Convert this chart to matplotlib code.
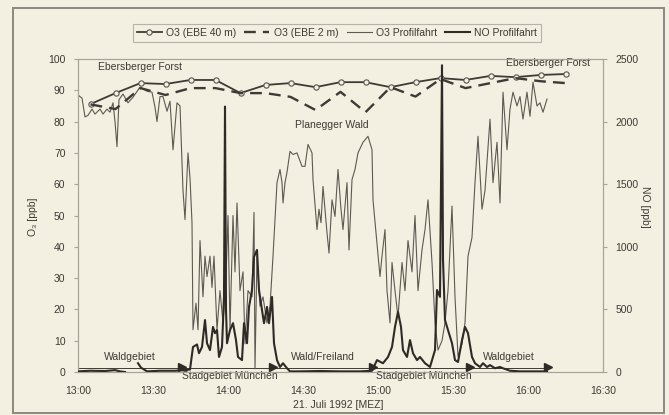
import numpy as np
import matplotlib.pyplot as plt
from matplotlib.patches import Rectangle

# minutes after 13:00 (MEZ)
ebe_t = [5, 15, 25, 35, 45, 55, 65, 75, 85, 95, 105, 115, 125, 135, 145, 155, 165, 175, 185, 195]
ebe40 = [85.6, 89.1, 92.3, 92.0, 93.3, 93.3, 89.1, 91.7, 92.3, 91.0,
         92.6, 92.6, 91.0, 92.6, 93.9, 93.3, 94.6, 94.2, 94.9, 95.2]
ebe2 = [85.5, 84.0, 90.7, 88.5, 90.7, 90.7, 89.1, 89.1, 87.9, 83.7,
        89.5, 83.0, 91.0, 88.0, 93.6, 90.7, 92.3, 93.9, 92.9, 92.3]

o3_t = [0, 1.6, 2.8, 4, 5.6, 6.8, 8.8, 10, 11.6, 12.8, 14, 14.8, 15.6, 16.4, 18, 20, 22,
        24.8, 27.6, 29.6, 30.8, 31.6, 32.8, 34, 35.6, 36.8, 38, 39.6, 40.8, 42, 42.8, 44,
        44.8, 45.6, 46, 47.2, 48, 48.8, 50, 50.8, 51.6, 52.8, 53.6, 54.4, 55.6, 56.8, 58,
        59.2, 60, 60.8, 62, 62.8, 63.6, 64.8, 66, 66.8, 68, 69.6, 70.4, 70.8, 71.6, 72.8,
        74, 75.6, 76.8, 78, 79.6, 80.8, 81.6, 82, 82.8, 83.6, 84.8, 86, 87.6, 89.6, 90.8,
        92, 93.6, 94, 95.6, 96.4, 97.2, 98, 99.6, 100.4, 101.6, 102.8, 104, 105.2, 106,
        107.6, 108.4, 109.6, 110.8, 112, 114, 116, 117.6, 118, 119.6, 120.8, 121.6, 122.8,
        123.6, 124.8, 125.6, 126.8, 128, 129.6, 130.8, 132, 133.6, 134.8, 136, 137.6,
        138.8, 140, 141.6, 142.8, 144, 145.6, 146.8, 148, 149.6, 150.8, 152, 153.6, 154.8,
        156, 157.6, 158.8, 160, 161.6, 162.8, 164.8, 166, 167.6, 168.8, 170, 171.6, 172.8,
        174, 175.6, 176.8, 178, 179.6, 180.8, 182, 183.6, 184.8, 186, 187.6]
o3_prof = [88.5, 87.5, 81.5, 82, 84, 82.4, 84, 82.4, 84, 83, 86, 80, 72, 87, 88.8, 86, 87.8,
           91, 89.7, 89.4, 84.6, 80, 88, 88, 83.3, 86.5, 71, 86, 85, 58, 48.7, 70,
           62, 47.7, 13.5, 22, 13.5, 42, 24, 37, 30.5, 37, 27, 37, 13.5, 26, 15.7,
           30, 50, 13.5, 50, 32, 54, 26, 32, 9, 26, 24, 51, 1, 37, 21,
           24, 15.7, 21, 37, 60.5, 64.7, 60.5, 54, 60.5, 63.8, 70.5, 69.5, 70, 65.7, 65.7,
           72.7, 70, 61.5, 45.5, 52, 47.7, 59.3, 44.5, 38, 55, 49.7, 64.7, 52, 45.5,
           60.5, 39, 61.5, 64.7, 70, 73.4, 75.3, 71, 55, 41, 30.5, 37, 45.5,
           26, 15.7, 35, 26, 17.6, 35, 26, 42, 32, 50, 26, 39,
           45.5, 55, 35, 15.7, 7, 10, 15.7, 26, 53, 24, 5, 9, 15.7,
           37, 43, 60.5, 75.3, 52, 58, 80.8, 60.5, 73.4, 54, 89.4, 71, 84,
           89.4, 85, 88, 80.8, 89.4, 81.7, 92.6, 85, 86, 83, 87.2]

no_t = [0, 4.8, 10.8, 14.8, 16.8, 18.8, 19.5, 24, 25.2, 27.6, 32.8, 38.8, 42.8, 44.8, 46,
        47.6, 48.4, 49.6, 50.8, 51.6, 52.8, 54, 54.8, 55.6, 56.4, 57.6, 58.4, 58.8, 59.2,
        59.6, 60.8, 62, 63.2, 64, 65.6, 66.4, 67.6, 68.4, 69.6, 70.4, 71.6, 72.4, 73.6,
        74.4, 75.6, 76.4, 77.6, 78.4, 79.6, 80.8, 82, 83.6, 84.8, 88.8, 96.8, 104.8, 112.8,
        117.6, 119.6, 122, 124, 125.6, 126.8, 128, 129.2, 130, 131.6, 132.8, 134, 135.6,
        136.8, 138.8, 140.8, 142.8, 143.6, 144.8, 145.2, 145.6, 146, 146.8, 148, 149.6,
        150.8, 152, 153.6, 154.8, 156, 157.6, 158.8, 160.8, 162, 163.6, 164.8, 166.8,
        168.8, 170, 172.8, 176.8, 180.8, 187.6]
no_prof = [5, 10, 8, 15, 5, 0, np.nan, 70, 35, 5, 10, 10, 15, 20, 200,
           220, 150, 200, 415, 230, 175, 360, 310, 335, 120, 200, 600, 2120, 500,
           230, 335, 390, 255, 120, 95, 390, 230, 520, 655, 920, 975, 655, 495,
           390, 520, 390, 600, 230, 95, 40, 70, 30, 5, 5, 8, 5, 5,
           10, 95, 70, 120, 200, 360, 480, 360, 175, 120, 255, 150, 95,
           120, 70, 40, 175, 655, 600, 1500, 2450, 900, 415, 335, 230,
           95, 80, 255, 360, 310, 120, 70, 40, 70, 40, 55, 30,
           40, 30, 10, 5, 5, 5]

# route segments along the trip (boundaries in minutes after 13:00)
seg_bounds = [0, 41.6, 78, 118, 156.8, 188]
seg_names = ['Waldgebiet', 'Stadgebiet München', 'Wald/Freiland', 'Stadgebiet München', 'Waldgebiet']

x_ticks = [0, 30, 60, 90, 120, 150, 180, 210]
x_labels = ['13:00', '13:30', '14:00', '14:30', '15:00', '15:30', '16:00', '16:30']

plt.rcParams['font.family'] = ['Liberation Sans', 'DejaVu Sans']
bg = '#f3efe1'
ink = '#3f3a35'
grey = '#a8a398'

fig = plt.figure(figsize=(6.69, 4.15), dpi=100, facecolor=bg)
fig.patches.append(Rectangle((13 / 669, 1 - 413 / 415), 651 / 669, 405 / 415,
                             transform=fig.transFigure, fill=False, ec='#8e8880', lw=1.4))

ax = fig.add_axes([78 / 669, 1 - 372 / 415, 525 / 669, 313 / 415], facecolor=bg)
ax2 = ax.twinx()

l1, = ax.plot(ebe_t, ebe40, '-o', color=ink, lw=1.3, ms=3.8, mfc=bg, mec='#5a554e', mew=0.8,
              label='O3 (EBE 40 m)', zorder=4)
l2, = ax.plot(ebe_t, ebe2, '--', color=ink, lw=1.7, dashes=(5, 3), label='O3 (EBE 2 m)', zorder=4)
l3, = ax.plot(o3_t, o3_prof, '-', color='#5e5952', lw=0.8, label='O3 Profilfahrt', zorder=3)
l4, = ax2.plot(no_t, no_prof, '-', color='#2f2a26', lw=1.5, label='NO Profilfahrt', zorder=3)

# segment line with arrow heads
ax.plot([seg_bounds[0], seg_bounds[-1]], [1.2, 1.2], color=ink, lw=0.7, zorder=2)
ax.plot(seg_bounds[1:], [1.6] * (len(seg_bounds) - 1), '>', color='#2f2a26', ms=6, zorder=5)
for i, name in enumerate(seg_names):
    xm = (seg_bounds[i] + seg_bounds[i + 1]) / 2
    if 'Stadgebiet' in name:
        ax.text(xm + 1, -1.4, name, ha='center', va='center', fontsize=7.5, color=ink, zorder=6)
    else:
        ax.text(xm, 4.8, name, ha='center', va='center', fontsize=7.5, color=ink, zorder=6)

ax.text(24.8, 97.4, 'Ebersberger Forst', ha='center', va='center', fontsize=7.5, color=ink)
ax.text(188, 98.8, 'Ebersberger Forst', ha='center', va='center', fontsize=7.5, color=ink)
ax.text(101.6, 78.8, 'Planegger Wald', ha='center', va='center', fontsize=7.5, color=ink)

ax.set_xlim(0, 210)
ax.set_ylim(0, 100)
ax2.set_ylim(0, 2500)
ax.set_xticks(x_ticks)
ax.set_xticklabels(x_labels)
ax.set_yticks(range(0, 101, 10))
ax2.set_yticks(range(0, 2501, 500))

for a in (ax, ax2):
    for s in a.spines.values():
        s.set_color(grey)
        s.set_linewidth(0.8)
ax.tick_params(axis='y', length=3, color=grey, labelsize=7.5, labelcolor=ink, pad=6)
ax.tick_params(axis='x', length=0, labelsize=7.5, labelcolor=ink, pad=10)
ax2.tick_params(axis='y', length=3, color=grey, labelsize=7.5, labelcolor=ink, pad=6)

fig.text(33 / 669, 1 - 217 / 415, 'O₃ [ppb]', rotation=90, ha='center', va='center',
         fontsize=7.5, color=ink)
fig.text(645 / 669, 1 - 207 / 415, 'NO [ppb]', rotation=270, ha='center', va='center',
         fontsize=7.5, color=ink)
fig.text(338 / 669, 1 - 405 / 415, '21. Juli 1992 [MEZ]', ha='center', va='center',
         fontsize=7.5, color=ink)

leg = fig.legend(handles=[l1, l2, l3, l4], ncol=4, loc='center',
                 bbox_to_anchor=(337 / 669, 1 - 33 / 415), fontsize=7.5, frameon=True,
                 fancybox=False, edgecolor=grey, facecolor=bg, handlelength=2.4,
                 columnspacing=0.8, handletextpad=0.4, borderpad=0.4)
leg.get_frame().set_linewidth(0.8)
for t in leg.get_texts():
    t.set_color(ink)

fig.savefig('out.png', dpi=100, facecolor=bg)
